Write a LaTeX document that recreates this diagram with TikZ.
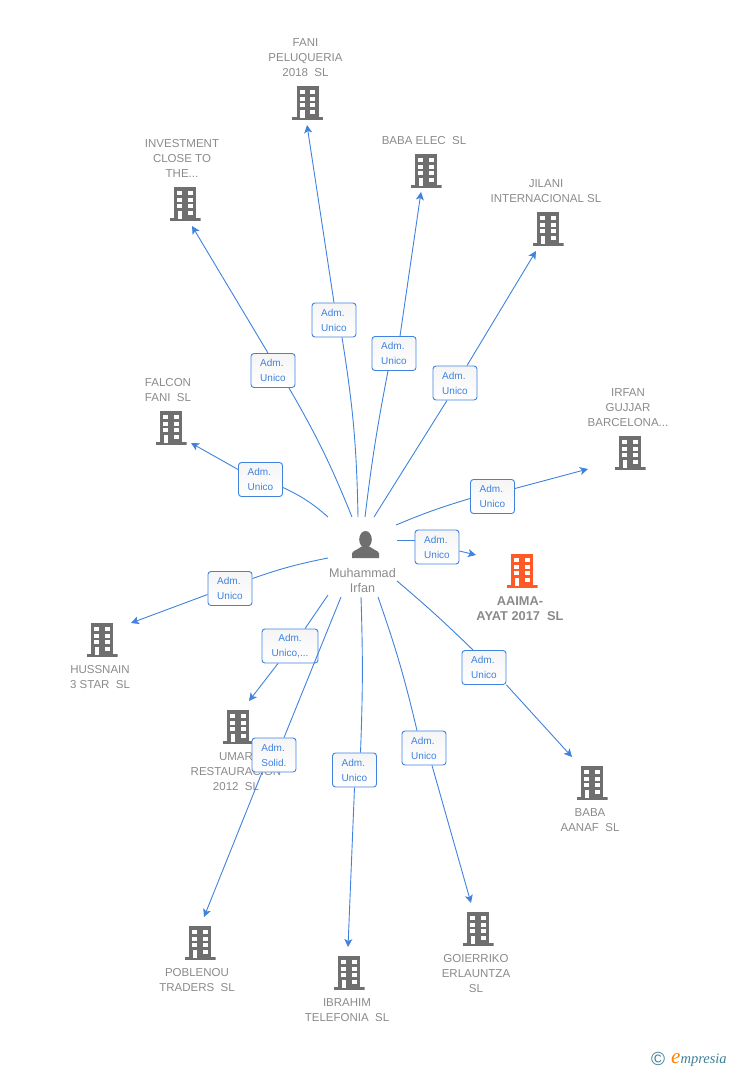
\documentclass[tikz,border=0pt]{standalone}
\usepackage{fontspec}
\setmainfont{Liberation Sans}
\newfontfamily\logofont{Liberation Serif}
\usepackage{tikz}
\usetikzlibrary{positioning,arrows.meta}

\definecolor{linkblue}{HTML}{3F82DF}
\definecolor{bldggrey}{HTML}{6F6F6F}
\definecolor{bldgorange}{HTML}{FF5A26}
\definecolor{textgrey}{HTML}{8A8A8A}
\definecolor{logoteal}{HTML}{3F7F96}

\newcommand{\bldgicon}[1]{
	\begin{scope}[shift={(path picture bounding box.center)}]
		\fill[#1] (-11,-17) rectangle (11,14);
		\fill[#1] (-15.5,14) rectangle (15.5,17);
		\foreach \rowy in {-12.7,-6,0.3,7.3}{
			\fill[white] (2.5,\rowy) rectangle (7.5,\rowy+4);
		}
		\foreach \rowy in {-12.7,-6,0.3}{
			\fill[white] (-8,\rowy) rectangle (-3,\rowy+4);
		}
		\fill[white] (-7.5,7.3) rectangle (-3,15);
	\end{scope}
}
\newcommand{\personicon}{
	\begin{scope}[shift={(path picture bounding box.center)}]
		\fill[bldggrey] (0,-5) ellipse (6.3 and 8.5);
		\fill[bldggrey] (-13.5,13.5) -- (-13.5,9) .. controls (-13,6) and (-8,5.5) .. (-4,2) -- (4,2) .. controls (8,5.5) and (13,6) .. (13.5,9) -- (13.5,13.5) -- cycle;
	\end{scope}
}

\tikzset{
	bldg/.style={minimum width=31pt,minimum height=34pt,inner sep=0pt,path picture={\bldgicon{#1}}},
	bldg/.default=bldggrey,
	person/.style={minimum width=28pt,minimum height=28pt,inner sep=0pt,path picture={\personicon}},
	bldgtext/.style={inner sep=0pt,align=center,text=textgrey,font=\fontsize{11.5}{15}\selectfont},
	adm/.style={draw=linkblue,line width=0.9pt,rounded corners=3pt,top color=black!4,bottom color=white,minimum width=44pt,minimum height=34pt,inner sep=0pt,align=left,text=linkblue,font=\fontsize{10}{15}\selectfont},
	link/.style={draw=linkblue,line width=0.9pt},
	arrowlink/.style={link,-{Stealth[length=8pt,width=8pt,inset=2pt]}}
}

\begin{document}
\begin{tikzpicture}[x=1pt,y=-1pt]
	\useasboundingbox (0,0) rectangle (728,1070);

	\node[bldg] (fani) at (307.5,103) {};
	\node[bldgtext,above=9pt of fani,xshift=-2pt] (fanitxt) {FANI\\PELUQUERIA\\2018\ \ SL};
	\node[bldg] (babaelec) at (426,171) {};
	\node[bldgtext,above=9pt of babaelec,xshift=-2pt] (babaelectxt) {BABA ELEC\ \ SL};
	\node[bldg] (jilani) at (548,229) {};
	\node[bldgtext,above=9pt of jilani,xshift=-2pt] (jilanitxt) {JILANI\\INTERNACIONAL SL};
	\node[bldg] (investment) at (185,204) {};
	\node[bldgtext,above=9pt of investment,xshift=-3pt] (investmenttxt) {INVESTMENT\\CLOSE TO\\THE...};
	\node[bldg] (falcon) at (171,428) {};
	\node[bldgtext,above=9pt of falcon,xshift=-3pt] (falcontxt) {FALCON\\FANI\ \ SL};
	\node[bldg] (irfan) at (630,453) {};
	\node[bldgtext,above=9pt of irfan,xshift=-2pt] (irfantxt) {IRFAN\\GUJJAR\\BARCELONA...};
	\node[bldg=bldgorange] (aaima) at (522,571) {};
	\node[bldgtext,below=8pt of aaima,xshift=-2pt,font=\fontsize{12.8}{15}\selectfont\bfseries] (aaimatxt) {AAIMA-\\AYAT 2017\ \ SL};
	\node[bldg] (hussnain) at (102,640) {};
	\node[bldgtext,below=8pt of hussnain,xshift=-2pt] (hussnaintxt) {HUSSNAIN\\3 STAR\ \ SL};
	\node[bldg] (umar) at (238,727) {};
	\node[bldgtext,below=8pt of umar,xshift=-2pt] (umartxt) {UMAR\\RESTAURACION\\2012\ \ SL};
	\node[bldg] (babaaanaf) at (592,783) {};
	\node[bldgtext,below=8pt of babaaanaf,xshift=-2pt] (babaaanaftxt) {BABA\\AANAF\ \ SL};
	\node[bldg] (goierriko) at (478,929) {};
	\node[bldgtext,below=8pt of goierriko,xshift=-2pt] (goierrikotxt) {GOIERRIKO\\ERLAUNTZA\\SL};
	\node[bldg] (ibrahim) at (349,973) {};
	\node[bldgtext,below=8pt of ibrahim,xshift=-2pt] (ibrahimtxt) {IBRAHIM\\TELEFONIA\ \ SL};
	\node[bldg] (poblenou) at (200,943) {};
	\node[bldgtext,below=8pt of poblenou,xshift=-3pt] (poblenoutxt) {POBLENOU\\TRADERS\ \ SL};

	\node[person] (muhammad) at (365.5,544.5) {};
	\node[bldgtext,below=9pt of muhammad,xshift=-3pt,font=\fontsize{12.6}{15}\selectfont] (muhammadtxt) {Muhammad\\Irfan};

	% role boxes
	\node[adm] (admfani) at (334,320) {Adm.\\Unico};
	\node[adm] (admbabaelec) at (394,353.5) {Adm.\\Unico};
	\node[adm] (admjilani) at (455,383) {Adm.\\Unico};
	\node[adm] (adminvestment) at (273,370.5) {Adm.\\Unico};
	\node[adm] (admfalcon) at (260.5,479.5) {Adm.\\Unico};
	\node[adm] (admirfan) at (492.5,496.5) {Adm.\\Unico};
	\node[adm] (admaaima) at (437,547) {Adm.\\Unico};
	\node[adm] (admhussnain) at (230,588.5) {Adm.\\Unico};
	\node[adm,minimum width=56pt,align=center] (admumar) at (290,646) {Adm.\\Unico,...};
	\node[adm] (admbabaaanaf) at (484,667.5) {Adm.\\Unico};
	\node[adm] (admpoblenou) at (274,755) {Adm.\\Solid.};
	\node[adm] (admgoierriko) at (424,748) {Adm.\\Unico};
	\node[adm] (admibrahim) at (354.5,770) {Adm.\\Unico};

	% free ends round the person
	\coordinate (sfani) at (358,517);
	\coordinate (sbabaelec) at (365,517);
	\coordinate (sjilani) at (374,517);
	\coordinate (sinvestment) at (352,517);
	\coordinate (sfalcon) at (328,517);
	\coordinate (sirfan) at (396,525);
	\coordinate (saaima) at (397,540);
	\coordinate (shussnain) at (328,558);
	\coordinate (sumar) at (328,595);
	\coordinate (sbabaaanaf) at (397,581);
	\coordinate (spoblenou) at (341,597);
	\coordinate (sgoierriko) at (378,597);
	\coordinate (sibrahim) at (361,597);

	% free ends near the buildings
	\coordinate (efani) at (307,125);
	\coordinate (ebabaelec) at (421,192);
	\coordinate (ejilani) at (536,251);
	\coordinate (einvestment) at (192,226);
	\coordinate (efalcon) at (191,443);
	\coordinate (eirfan) at (588,469);
	\coordinate (eaaima) at (476,555);
	\coordinate (ehussnain) at (131,623);
	\coordinate (eumar) at (249,701);
	\coordinate (ebabaaanaf) at (572,757);
	\coordinate (epoblenou) at (204,917);
	\coordinate (egoierriko) at (471,903);
	\coordinate (eibrahim) at (348,947);

	\draw[link] (sfani) to[bend right=4] ([xshift=8pt]admfani.south);
	\draw[arrowlink] (admfani.north) -- (efani);
	\draw[link] (sbabaelec) to[bend left=2] ([xshift=-6pt]admbabaelec.south);
	\draw[arrowlink] ([xshift=6pt]admbabaelec.north) -- (ebabaelec);
	\draw[link] (sjilani) -- ([xshift=-8pt]admjilani.south);
	\draw[arrowlink] ([xshift=12pt]admjilani.north) -- (ejilani);
	\draw[link] (sinvestment) to[bend right=4] ([xshift=16pt]adminvestment.south);
	\draw[arrowlink] ([xshift=-5pt]adminvestment.north) -- (einvestment);
	\draw[link] (sfalcon) to[bend right=8] ([yshift=-8pt]admfalcon.east);
	\draw[arrowlink] ([yshift=10pt]admfalcon.west) -- (efalcon);
	\draw[link] (sirfan) to[bend left=3] ([yshift=-2pt]admirfan.west);
	\draw[arrowlink] ([yshift=8pt]admirfan.east) -- (eirfan);
	\draw[link] (saaima) -- ([yshift=7pt]admaaima.west);
	\draw[arrowlink] ([yshift=-4pt]admaaima.east) -- (eaaima);
	\draw[link] (shussnain) to[bend right=4] ([yshift=10pt]admhussnain.east);
	\draw[arrowlink] ([yshift=-6pt]admhussnain.west) -- (ehussnain);
	\draw[link] (sumar) -- ([xshift=15pt]admumar.north);
	\draw[arrowlink] ([xshift=-12pt]admumar.south) -- (eumar);
	\draw[link] (sbabaaanaf) to[bend left=2] ([xshift=-11pt]admbabaaanaf.north);
	\draw[arrowlink] (admbabaaanaf.south east) -- (ebabaaanaf);
	\draw[link] (spoblenou) -- ([xshift=10pt]admpoblenou.north);
	\draw[arrowlink] ([xshift=-12pt]admpoblenou.south) -- (epoblenou);
	\draw[link] (sgoierriko) to[bend left=3] ([xshift=-7pt]admgoierriko.north);
	\draw[arrowlink] ([xshift=8pt]admgoierriko.south) -- (egoierriko);
	\draw[link] (sibrahim) to[bend left=2] ([xshift=6pt]admibrahim.north);
	\draw[arrowlink] (admibrahim.south) -- (eibrahim);

	\node[inner sep=0pt,text=logoteal,font=\fontsize{19}{19}\selectfont] (logoc) at (658,1059) {©};
	\node[inner sep=0pt,text=logoteal,anchor=base west,font=\logofont\itshape\fontsize{14.5}{15}\selectfont] (logotxt) at (671,1063) {\textcolor{orange}{\fontsize{21}{21}\selectfont e}mpresia};
\end{tikzpicture}
\end{document}
